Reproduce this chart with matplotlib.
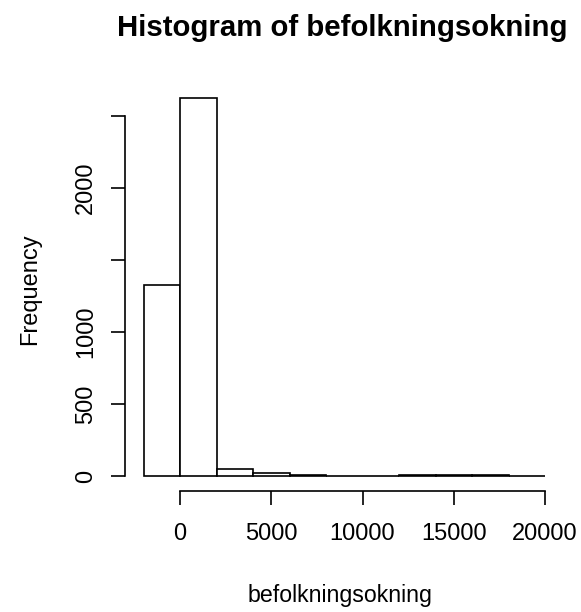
import matplotlib
matplotlib.use("Agg")
import matplotlib.pyplot as plt

# Histogram counts per 2000-wide bin
bin_edges = [-2000, 0, 2000, 4000, 6000, 8000, 10000, 12000, 14000, 16000, 18000, 20000]
counts = [1325, 2625, 52, 20, 5, 0, 0, 4, 4, 4, 0]
x_ticks = [0, 5000, 10000, 15000, 20000]
y_ticks = [0, 500, 1000, 1500, 2000, 2500]
y_tick_labels = ["0", "500", "1000", "", "2000", ""]

plt.rcParams["font.family"] = ["Liberation Sans", "DejaVu Sans"]

W, H = 581, 612
fig = plt.figure(figsize=(W / 100, H / 100), dpi=100)

# axes box in pixel coordinates (left, top, right, bottom)
L, T, R, B = 125, 90, 555, 491
ax = fig.add_axes([L / W, 1 - B / H, (R - L) / W, (B - T) / H])

px_x = 36.5 / 2000.0   # pixels per x unit
px_y = 72.0 / 500.0    # pixels per y unit
x0_px, y0_px = 180, 476
ax.set_xlim((L - x0_px) / px_x, (R - x0_px) / px_x)
ax.set_ylim((y0_px - B) / px_y, (y0_px - T) / px_y)

widths = [bin_edges[i + 1] - bin_edges[i] for i in range(len(counts))]
ax.bar(bin_edges[:-1], counts, width=widths, align="edge",
       facecolor="white", edgecolor="black", linewidth=1.2)

for s in ["top", "right"]:
    ax.spines[s].set_visible(False)
ax.spines["left"].set_bounds(0, 2500)
ax.spines["bottom"].set_bounds(0, 20000)
for s in ["left", "bottom"]:
    ax.spines[s].set_linewidth(1.2)

ax.set_xticks(x_ticks)
ax.set_xticklabels([str(v) for v in x_ticks])
ax.set_yticks(y_ticks)
ax.set_yticklabels(y_tick_labels, rotation=90, va="center")
ax.tick_params(axis="both", direction="out", length=10, width=1.2,
               labelsize=17, color="black", labelcolor="black")
ax.tick_params(axis="x", pad=13)
ax.tick_params(axis="y", pad=10)

fig.text(342 / W, 1 - 36 / H, "Histogram of befolkningsokning",
         ha="center", va="baseline", fontsize=21.2, fontweight="bold")
fig.text(340 / W, 1 - 602 / H, "befolkningsokning",
         ha="center", va="baseline", fontsize=16.7)
fig.text(30 / W, 1 - 289 / H, "Frequency", rotation=90,
         ha="center", va="center", fontsize=17)

fig.savefig("out.png", dpi=100)
